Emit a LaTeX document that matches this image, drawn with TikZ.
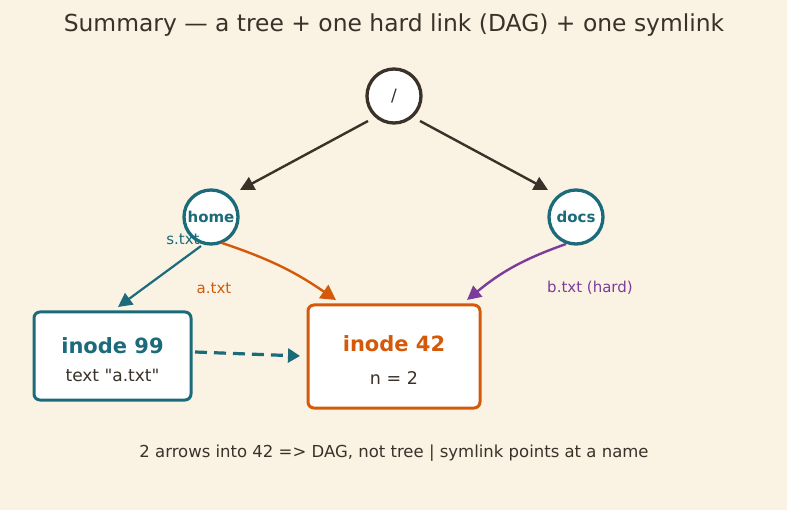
\documentclass[tikz,border=0pt]{standalone}
\usepackage{fontspec}
\setmainfont{DejaVu Sans}
\newfontfamily\plainfont{DejaVu Sans}
\usetikzlibrary{arrows.meta}
\definecolor{bg}{HTML}{FAF2E3}
\definecolor{ink}{HTML}{3A3129}
\definecolor{teal}{HTML}{1B6B7A}
\definecolor{orng}{HTML}{D45A0A}
\definecolor{purp}{HTML}{7B3C9B}
\tikzset{
  circ/.style={circle, draw, fill=white, line width=3.3pt, minimum size=54pt, inner sep=0pt},
  ibox/.style={draw, fill=white, rounded corners=6pt, line width=3pt},
  edge/.style={line width=2.4pt, -{Triangle[length=14pt,width=14pt]}},
  lbl/.style={font=\fontsize{15pt}{18pt}\selectfont},
}
\begin{document}
\begin{tikzpicture}[x=1pt,y=-1pt]
\fill[bg] (0,0) rectangle (787,510);
\useasboundingbox (0,0) rectangle (787,510);
\node[text=ink, font=\fontsize{23.4pt}{27pt}\selectfont] (title) at (394,25) {Summary — a tree + one hard link (DAG) + one symlink};
\node[circ, draw=ink, text=ink, font=\fontsize{17pt}{20pt}\selectfont] (root) at (394,96) {/};
\node[circ, draw=teal, text=teal, font=\bfseries\fontsize{15pt}{18pt}\selectfont] (home) at (211,217) {home};
\node[circ, draw=teal, text=teal, font=\bfseries\fontsize{15pt}{18pt}\selectfont] (docs) at (576,217) {docs};
\node[ibox, draw=teal, minimum width=157pt, minimum height=88pt] (i99) at (112.5,356) {};
\node[text=teal, font=\bfseries\fontsize{21pt}{24pt}\selectfont] (i99a) at (112.5,346) {inode 99};
\node[text=ink, font=\plainfont\fontsize{17pt}{20pt}\selectfont] (i99b) at (112.5,375) {text "a.txt"};
\node[ibox, draw=orng, minimum width=172pt, minimum height=103pt] (i42) at (394,356.5) {};
\node[text=orng, font=\bfseries\fontsize{21pt}{24pt}\selectfont] (i42a) at (394,344) {inode 42};
\node[text=ink, font=\fontsize{17.5pt}{20pt}\selectfont] (i42b) at (394,378) {n = 2};
\coordinate (rA) at (368,121);
\coordinate (rB) at (420,121);
\coordinate (hA) at (240,190);
\coordinate (dA) at (548,190);
\draw[edge, ink] (rA) -- (hA);
\draw[edge, ink] (rB) -- (dA);
\coordinate (h1) at (201,246);
\coordinate (t99) at (118,307);
\draw[edge, teal, line width=2.2pt] (h1) -- (t99);
\coordinate (h2) at (222,243);
\coordinate (t42a) at (336,300);
\draw[edge, orng, -{Triangle[length=15pt,width=16pt]}] (h2) to[bend left=8] (t42a);
\coordinate (d1) at (566,244);
\coordinate (t42b) at (467,300);
\draw[edge, purp] (d1) to[bend right=10] (t42b);
\coordinate (s1) at (195,352);
\coordinate (s2) at (300,356);
\draw[edge, teal, line width=3.2pt, dash pattern=on 12pt off 7pt, -{Triangle[length=12pt,width=14pt]}] (s1) -- (s2);
\node[lbl, text=teal] (ls) at (183,239) {s.txt};
\node[lbl, text=orng] (la) at (214,288) {a.txt};
\node[lbl, text=purp] (lb) at (590,288) {b.txt (hard)};
\node[text=ink, font=\fontsize{16.5pt}{19pt}\selectfont] (foot) at (394,453) {2 arrows into 42 => DAG, not tree | symlink points at a name};
\end{tikzpicture}
\end{document}
